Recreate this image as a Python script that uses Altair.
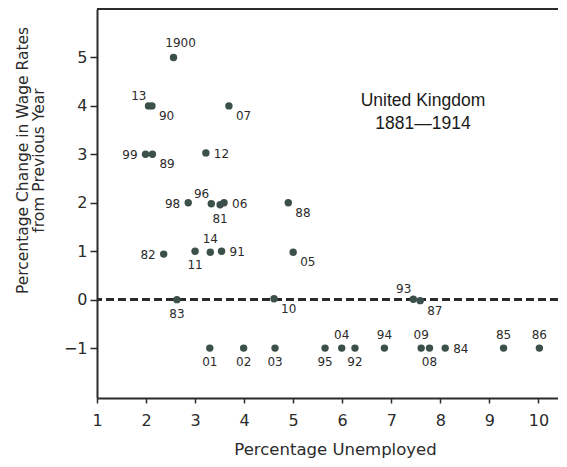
import altair as alt
import pandas as pd

# Year labels, unemployment (%) and wage-rate change (%)
years = ["81", "82", "83", "84", "85", "86", "87", "88", "89", "90",
         "91", "92", "93", "94", "95", "96", "98", "99", "1900", "01",
         "02", "03", "04", "05", "06", "07", "08", "09", "10", "11",
         "12", "13", "14"]
unemployed = [3.51, 2.36, 2.63, 8.10, 9.29, 10.02, 7.59, 4.90, 2.13, 2.12,
              3.54, 6.26, 7.45, 6.86, 5.65, 3.33, 2.86, 1.99, 2.56, 3.30,
              3.99, 4.63, 5.99, 5.00, 3.59, 3.69, 7.78, 7.61, 4.61, 3.00,
              3.22, 2.05, 3.31]
wage_change = [1.96, 0.94, 0.00, -1.0, -1.0, -1.0, -0.02, 2.0, 3.0, 4.0,
               1.0, -1.0, 0.01, -1.0, -1.0, 1.98, 2.0, 3.0, 5.0, -1.0,
               -1.0, -1.0, -1.0, 0.98, 2.0, 4.0, -1.0, -1.0, 0.02, 1.0,
               3.03, 4.0, 0.98]
# where each year's label sits relative to its dot
label_side = ["below", "left", "below", "right", "above", "above", "below_right",
              "below_right", "below_right", "below_right", "right", "below",
              "above_left", "above", "below", "above_left", "left", "left",
              "above_right", "below", "below", "below", "above", "below_right", "right",
              "below_right", "below", "above", "below_right", "below", "right",
              "above_left", "above"]

x_ticks = list(range(1, 11))
y_ticks = [-1, 0, 1, 2, 3, 4, 5]

df = pd.DataFrame({"year": years, "u": unemployed, "w": wage_change, "side": label_side})

FONT = "DejaVu Sans"
INK = "#2b2b2b"
DOT = "#3b504b"

x_enc = alt.X("u:Q", scale=alt.Scale(domain=[1, 10.4], nice=False, zero=False),
              axis=alt.Axis(values=x_ticks, title="Percentage Unemployed", grid=False,
                            labelFlush=False, tickSize=5, labelPadding=9,
                            labelFontSize=16, labelFont=FONT, labelColor=INK,
                            domainColor=INK, domainWidth=2, tickColor=INK, tickWidth=1.5,
                            titleFont=FONT, titleFontSize=16.5, titleFontWeight="normal",
                            titleColor=INK, titleX=238, titleY=51, titleBaseline="middle"))
y_enc = alt.Y("w:Q", scale=alt.Scale(domain=[-2.03, 6], nice=False, zero=False),
              axis=alt.Axis(values=y_ticks, title=["Percentage Change in Wage Rates", "from Previous Year"],
                            grid=False, tickSize=7, labelPadding=3,
                            labelFontSize=16, labelFont=FONT, labelColor=INK,
                            domainColor=INK, domainWidth=2, tickColor=INK, tickWidth=1.5,
                            titleFont=FONT, titleFontSize=15.5, titleFontWeight="normal",
                            titleColor=INK, titleX=-67, titleY=151, titleAlign="center",
                            titleBaseline="bottom", titleAngle=270, titleLineHeight=16))

base = alt.Chart(df)

points = base.mark_point(filled=True, size=55, color=DOT, opacity=1).encode(x=x_enc, y=y_enc)

zero_line = alt.Chart(df).mark_rule(color=INK, strokeWidth=1.8, strokeDash=[8, 4]).encode(
    y=alt.datum(0))
top_border = alt.Chart(df).mark_rule(color=INK, strokeWidth=2).encode(y=alt.datum(6))

placements = {
    "above": ("center", 0, -13),
    "above_right": ("center", 7, -14),
    "below": ("center", 0, 14),
    "left": ("right", -8, 1),
    "right": ("left", 8, 1),
    "below_right": ("left", 7, 10),
    "above_left": ("right", -2, -10),
}
label_layers = []
for side, (align, dx, dy) in placements.items():
    label_layers.append(
        base.transform_filter(alt.datum.side == side)
        .mark_text(align=align, dx=dx, dy=dy, baseline="middle", font=FONT,
                   fontSize=12, color=INK)
        .encode(x="u:Q", y="w:Q", text="year:N")
    )

title = alt.Chart(pd.DataFrame({"k": [0]})).mark_text(
    text=["United Kingdom", "1881\u20141914"], font="Liberation Sans", fontSize=17.5,
    fontWeight="normal", color="#1a1a1a", lineHeight=23, align="center", baseline="middle"
).encode(x=alt.value(326), y=alt.value(92))

chart = alt.layer(zero_line, top_border, points, *label_layers, title).properties(
    width=461, height=389,
    autosize=alt.AutoSizeParams(type="none"),
    padding={"left": 89, "top": 1, "right": 0, "bottom": 61},
).configure_view(stroke=None).configure(background="white")

chart.save("out.html", embed_options={"renderer": "svg", "actions": False})
